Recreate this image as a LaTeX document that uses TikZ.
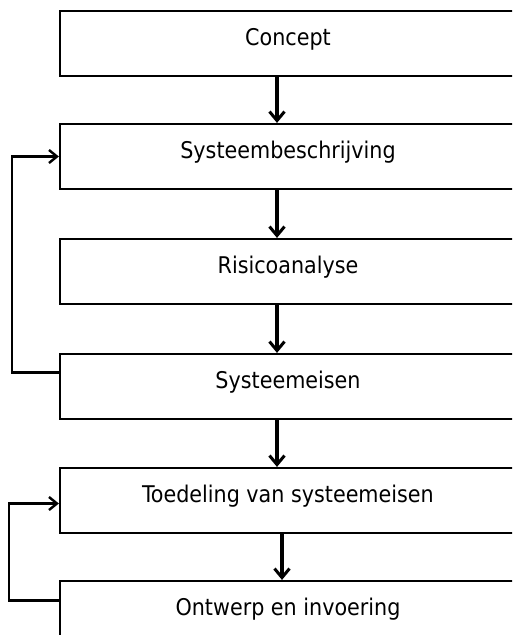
\documentclass[tikz,border=0pt]{standalone}
\usepackage{fontspec}
\setmainfont{DejaVu Sans Condensed}
\usetikzlibrary{arrows.meta}

\tikzset{
  stage/.style={draw, line width=2.2pt, minimum width=480pt, inner sep=0pt,
    text height=34pt, text depth=31pt, font=\fontsize{23}{27}\selectfont},
  flow/.style={line width=4pt, -{Straight Barb[length=9pt,width=15pt,line width=3pt]}},
  loop/.style={line width=2.1pt, -{Straight Barb[length=8pt,width=13pt,line width=2.4pt]}}
}
\newcommand{\stagetext}[1]{\hspace*{-24pt}#1}

\begin{document}
\begin{tikzpicture}[x=1pt, y=-1pt]
            \useasboundingbox (0,0) rectangle (512,635);
            \clip (0,0) rectangle (512,635);
            \fill[white] (0,0) rectangle (512,635);
            \node[stage] (concept) at (300,43.5) {\stagetext{Concept}};
            \node[stage] (besch) at (300,156.5) {\stagetext{Systeembeschrijving}};
            \node[stage] (risico) at (300,271.5) {\stagetext{Risicoanalyse}};
            \node[stage] (eisen) at (300,386.5) {\stagetext{Systeemeisen}};
            \node[stage] (toedeling) at (300,500.5) {\stagetext{Toedeling van systeemeisen}};
            \node[stage] (ontwerp) at (300,613.5) {\stagetext{Ontwerp en invoering}};
            \draw[flow] ([xshift=-23pt]concept.south) -- ([xshift=-23pt]besch.north);
            \draw[flow] ([xshift=-23pt]besch.south) -- ([xshift=-23pt]risico.north);
            \draw[flow] ([xshift=-23pt]risico.south) -- ([xshift=-23pt]eisen.north);
            \draw[flow] ([xshift=-23pt]eisen.south) -- ([xshift=-23pt]toedeling.north);
            \draw[flow] ([xshift=-18pt]toedeling.south) -- ([xshift=-18pt]ontwerp.north);
            % terugkoppelingen
            \draw[loop] ([yshift=14pt]eisen.west) -- ++(-47pt,0) |- (besch.west);
            \draw[loop] ([yshift=13pt]ontwerp.west) -- ++(-50pt,0) |- ([yshift=-3pt]toedeling.west);
        \end{tikzpicture}
\end{document}
